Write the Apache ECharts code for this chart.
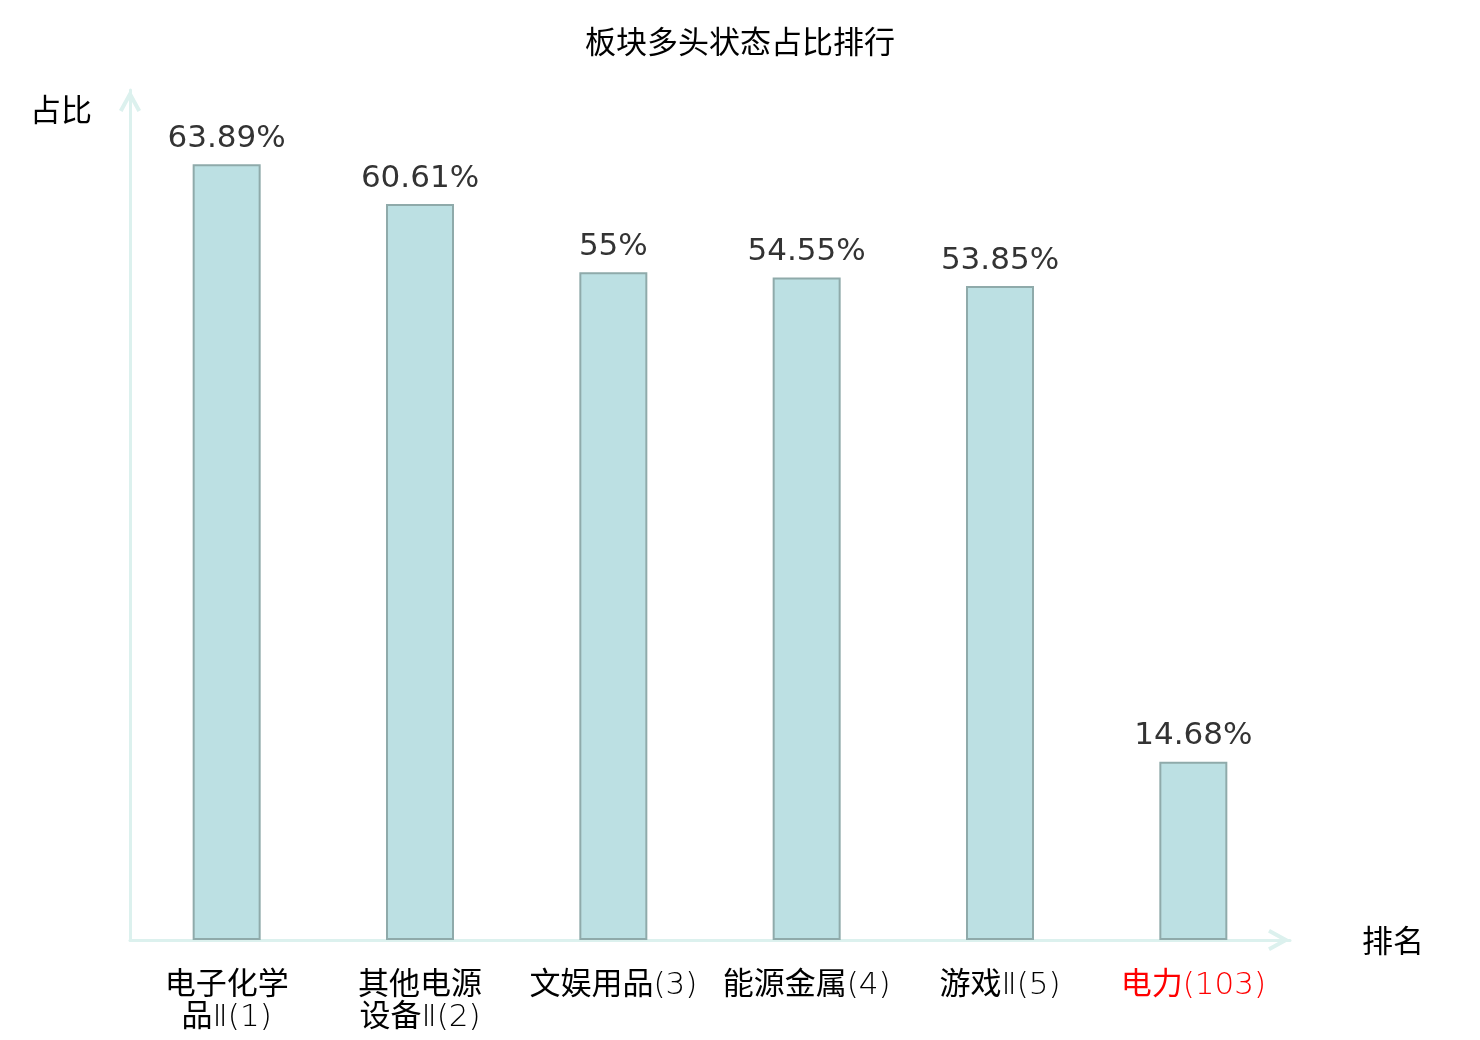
<!DOCTYPE html>
<html>
<head>
<meta charset="utf-8">
<style>html,body{margin:0;padding:0;background:#fff;}#chart{width:1480px;height:1040px;}</style>
<script src="https://cdn.jsdelivr.net/npm/echarts@6/dist/echarts.min.js"></script>
</head>
<body>
<div id="chart"></div>
<script>
const titleText = '板块多头状态占比排行';
const categories = ['电子化学\n品Ⅱ(1)', '其他电源\n设备Ⅱ(2)', '文娱用品(3)', '能源金属(4)', '游戏Ⅱ(5)', '电力(103)'];
const highlightIndex = 5;
const values = [63.89, 60.61, 55, 54.55, 53.85, 14.68];
const yName = '占比';
const xName = '排名';

const FONT = '"DejaVu Sans", "Noto Sans CJK SC", sans-serif';
const LIGHT_FONT = '"DejaVu Sans Light", "DejaVu Sans ExtraLight", "Noto Sans CJK SC", sans-serif';
const chart = echarts.init(document.getElementById('chart'));
const arrowPath = 'path://M11,0 L22,20 L18.5,21.9 L11,8.3 L3.5,21.9 L0,20 Z';
const axisLineCommon = {
  show: true,
  symbol: ['none', arrowPath],
  symbolSize: [22, 22],
  symbolOffset: [0, -11],
  lineStyle: { color: '#dcf1ee', width: 3 }
};
chart.setOption({
  animation: false,
  backgroundColor: '#fff',
  title: {
    text: titleText,
    left: 'center',
    top: 24,
    textStyle: { fontSize: 31, fontWeight: 'normal', color: '#000', fontFamily: FONT }
  },
  grid: { left: 130, right: 190, top: 90, bottom: 100 },
  xAxis: {
    type: 'category',
    data: categories.map((c, i) => i === highlightIndex ? { value: c, textStyle: { color: '#ff0000' } } : c),
    name: '{n|' + xName + '}',
    nameLocation: 'end',
    nameGap: 72,
    nameTextStyle: {
      fontSize: 31, color: '#000', fontFamily: FONT, verticalAlign: 'middle',
      rich: { n: { fontSize: 31, color: '#000', fontFamily: FONT, padding: [8, 0, 0, 0] } }
    },
    axisLine: axisLineCommon,
    axisTick: { show: false },
    axisLabel: {
      interval: 0,
      margin: 30,
      fontSize: 31,
      lineHeight: 32,
      color: '#000',
      fontWeight: 'normal',
      fontFamily: LIGHT_FONT
    }
  },
  yAxis: {
    type: 'value',
    min: 0,
    max: 70,
    name: yName,
    nameLocation: 'end',
    nameGap: -23,
    nameTextStyle: { fontSize: 31, color: '#000', align: 'right', verticalAlign: 'middle', padding: [0, 38, 0, 0], fontFamily: FONT },
    axisLine: axisLineCommon,
    axisTick: { show: false },
    axisLabel: { show: false },
    splitLine: { show: false }
  },
  series: [{
    type: 'bar',
    data: values,
    barWidth: 68,
    itemStyle: { color: '#bce0e3', borderColor: '#8faaaa', borderWidth: 2 },
    label: {
      show: true,
      position: 'top',
      distance: 10,
      fontSize: 31,
      color: '#333',
      fontFamily: FONT,
      formatter: p => p.value + '%'
    }
  }]
});
</script>
</body>
</html>
